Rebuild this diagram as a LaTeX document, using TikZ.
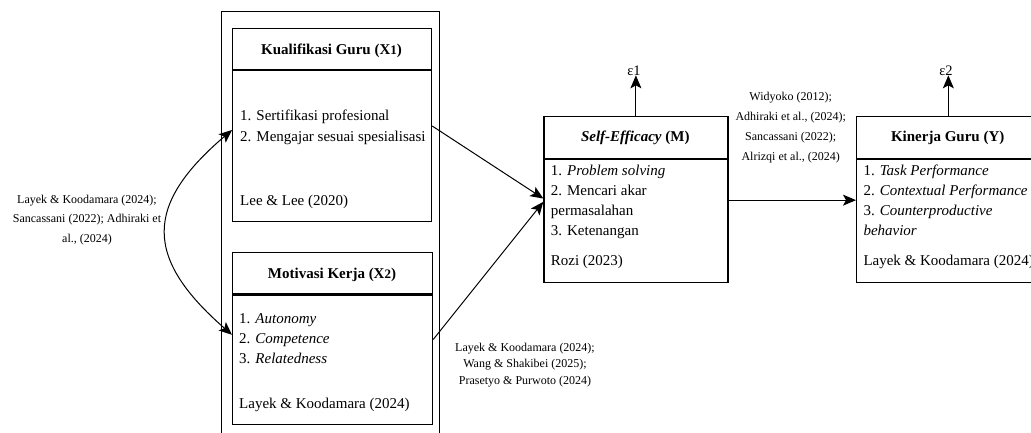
\documentclass[tikz,border=0pt]{standalone}
\usepackage{fontspec}
\setmainfont{Liberation Serif}
\usetikzlibrary{arrows.meta}
\begin{document}
\begin{tikzpicture}[x=1pt,y=-1pt,
  box/.style={draw,line width=1.2pt,inner sep=0pt,anchor=north west},
  tl/.style={inner sep=0pt,font=\fontsize{15}{18}\selectfont,anchor=base west},
  tc/.style={inner sep=0pt,font=\fontsize{15}{18}\selectfont\bfseries,anchor=base},
  lbl/.style={inner sep=0pt,font=\fontsize{12}{14}\selectfont,anchor=base},
  conn/.style={line width=1pt,-{Stealth[length=13pt,width=11pt,inset=3pt]}}]
\useasboundingbox (0,0) rectangle (1031,432);
% outer frame
\node[box, minimum width=217.5pt, minimum height=440pt] (outer) at (221,10.5) {};
% X1
\node[box, minimum width=199pt, minimum height=41pt] (x1h) at (232,27.7) {};
\node[box, minimum width=199pt, minimum height=151pt] (x1b) at (x1h.south west) {};
\node[tc] (x1t) at (331.5,54) {Kualifikasi Guru (X{\fontsize{13}{13}\selectfont 1})};
\node[tl] (x1i1) at (240,120) {1. Sertifikasi profesional};
\node[tl] (x1i2) at (240,141) {2. Mengajar sesuai spesialisasi};
\node[tl] (x1r) at (240,205) {Lee \& Lee (2020)};
% X2
\node[box, minimum width=200pt, minimum height=41.3pt] (x2h) at (232,252) {};
\node[box, minimum width=200pt, minimum height=129.4pt] (x2b) at (x2h.south west) {};
\node[tc] (x2t) at (332,278) {Motivasi Kerja (X{\fontsize{13}{13}\selectfont 2})};
\node[tl] (x2i1) at (239,323) {1. \textit{Autonomy}};
\node[tl] (x2i2) at (239,343) {2. \textit{Competence}};
\node[tl] (x2i3) at (239,363) {3. \textit{Relatedness}};
\node[tl] (x2r) at (239,408) {Layek \& Koodamara (2024)};
% M
\node[box, minimum width=184pt, minimum height=41.7pt] (mh) at (543.3,116) {};
\node[box, minimum width=184pt, minimum height=123.3pt] (mb) at (mh.south west) {};
\node[tc] (mt) at (635.3,141.7) {\textit{Self-Efficacy} (M)};
\node[tl] (mi1) at (550.7,175.7) {1. \textit{Problem solving}};
\node[tl] (mi2) at (550.7,195) {2. Mencari akar};
\node[tl] (mi2b) at (550.7,215) {permasalahan};
\node[tl] (mi3) at (550.7,235) {3. Ketenangan};
\node[tl] (mr) at (550.7,265) {Rozi (2023)};
% Y
\node[box, minimum width=183.5pt, minimum height=41.7pt] (yh) at (856,116) {};
\node[box, minimum width=183.5pt, minimum height=123.3pt] (yb) at (yh.south west) {};
\node[tc] (yt) at (947.7,141.7) {Kinerja Guru (Y)};
\node[tl] (yi1) at (863.3,175.7) {1. \textit{Task Performance}};
\node[tl] (yi2) at (863.3,195) {2. \textit{Contextual Performance}};
\node[tl] (yi3) at (863.3,215) {3. \textit{Counterproductive}};
\node[tl] (yi3b) at (863.3,235) {\textit{behavior}};
\node[tl] (yr) at (863.3,265) {Layek \& Koodamara (2024)};
% error terms
\node[lbl,font=\fontsize{14.5}{16}\selectfont] (e1) at (634,75) {ε1};
\node[lbl,font=\fontsize{14.5}{16}\selectfont] (e2) at (946,75) {ε2};
\draw[conn] (mh.north) -- (mh.north |- e1.south);
\draw[conn] (yh.north) -- (yh.north |- e2.south);
% labels
\node[lbl] (l1a) at (87,203) {Layek \& Koodamara (2024);};
\node[lbl] (l1b) at (87,222) {Sancassani (2022); Adhiraki et};
\node[lbl] (l1c) at (87,242) {al., (2024)};
\node[lbl] (l2a) at (790.7,100) {Widyoko (2012);};
\node[lbl] (l2b) at (790.7,120) {Adhiraki et al., (2024);};
\node[lbl] (l2c) at (790.7,140) {Sancassani (2022);};
\node[lbl] (l2d) at (790.7,160) {Alrizqi et al., (2024)};
\node[lbl] (l3a) at (525,351) {Layek \& Koodamara (2024);};
\node[lbl] (l3b) at (525,367.5) {Wang \& Shakibei (2025);};
\node[lbl] (l3c) at (525,384) {Prasetyo \& Purwoto (2024)};
% connectors
\draw[conn] ([yshift=20pt]x1b.east) -- ([yshift=22.6pt]mb.west);
\draw[conn] ([yshift=20.3pt]x2b.east) -- ([yshift=19.3pt]mb.west);
\draw[conn] ([yshift=21pt]mb.east) -- ([yshift=21pt]yb.west);
\draw[line width=1pt,{Stealth[length=13pt,width=11pt,inset=3pt]}-{Stealth[length=13pt,width=11pt,inset=3pt]}]
  ([yshift=16pt]x1b.west) .. controls (144,205) and (144,258) .. ([yshift=25pt]x2b.west);
\end{tikzpicture}
\end{document}
